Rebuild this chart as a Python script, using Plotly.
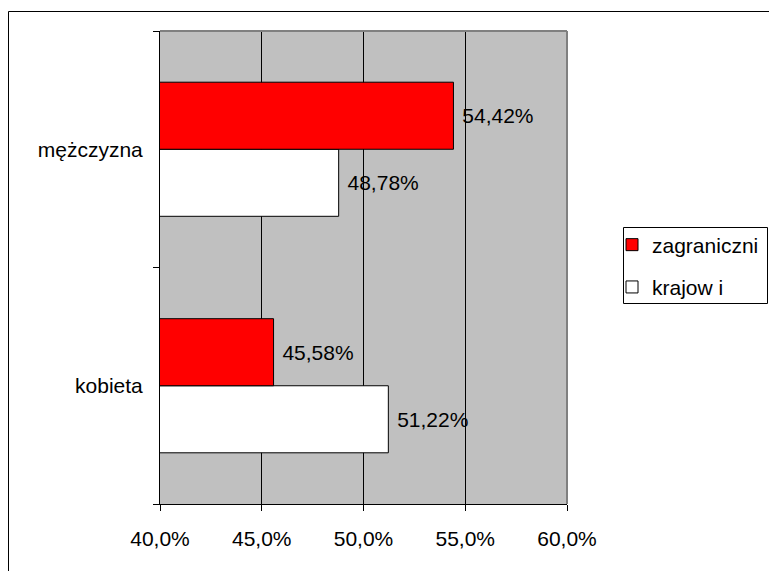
import plotly.graph_objects as go

categories = ["kobieta", "mężczyzna"]
krajowi = [51.22, 48.78]
zagraniczni = [45.58, 54.42]
series_names = ["zagraniczni", "krajow i"]
x_ticks = [40, 45, 50, 55, 60]
x_tick_labels = ["40,0%", "45,0%", "50,0%", "55,0%", "60,0%"]

W, H = 769, 571
# plot area in page pixels
L, R, T, B = 160, 567, 31, 504
pw, ph = R - L, B - T


def px(x):
    return (x - L) / pw


def py(y):
    return (B - y) / ph


FONT = "Liberation Sans, Arial, sans-serif"
FS = 21

fig = go.Figure()
fig.add_trace(go.Bar(
    y=categories, x=krajowi, orientation="h", name=series_names[1],
    marker=dict(color="#FFFFFF", line=dict(color="#000000", width=1)),
    texttemplate=" %{x:.2f}%", textposition="outside", constraintext="none",
    textfont=dict(size=FS, color="#000000", family=FONT), cliponaxis=False,
    legendgroup="b", legendrank=2,
))
fig.add_trace(go.Bar(
    y=categories, x=zagraniczni, orientation="h", name=series_names[0],
    marker=dict(color="#FF0000", line=dict(color="#000000", width=1)),
    texttemplate=" %{x:.2f}%", textposition="outside", constraintext="none",
    textfont=dict(size=FS, color="#000000", family=FONT), cliponaxis=False,
    legendgroup="a", legendrank=1,
))

shapes = [
    # outer chart border
    dict(type="rect", xref="paper", yref="paper", x0=px(8.5), x1=px(775), y0=py(580), y1=py(11.5),
         line=dict(color="#000000", width=1), layer="below"),
    # legend box
    dict(type="rect", xref="paper", yref="paper", x0=px(623.5), x1=px(767.5), y0=py(303.5), y1=py(227.5),
         line=dict(color="#000000", width=1), fillcolor="#FFFFFF", layer="below"),
    # plot area top/right border in gray
    dict(type="line", xref="paper", yref="paper", x0=0, x1=1, y0=1, y1=1,
         line=dict(color="#808080", width=2), layer="above"),
    dict(type="line", xref="paper", yref="paper", x0=1, x1=1, y0=0, y1=1,
         line=dict(color="#808080", width=2), layer="above"),
]

fig.update_layout(
    width=W, height=H,
    margin=dict(l=L, r=W - R, t=T, b=H - B, pad=0, autoexpand=False),
    paper_bgcolor="#FFFFFF", plot_bgcolor="#C0C0C0",
    separators=",.",
    barmode="group", bargap=0.433, bargroupgap=0,
    font=dict(family=FONT, size=FS, color="#000000"),
    showlegend=True,
    legend=dict(
        x=px(612), xanchor="left", y=py(266), yanchor="middle",
        traceorder="grouped", tracegroupgap=12,
        bgcolor="rgba(0,0,0,0)", borderwidth=0,
        font=dict(size=FS, family=FONT, color="#000000"),
    ),
    xaxis=dict(
        range=[40, 60], tickvals=x_ticks, ticktext=x_tick_labels,
        showgrid=True, gridcolor="#000000", gridwidth=1, zeroline=False,
        showline=True, linecolor="#000000", linewidth=1,
        ticks="outside", ticklen=6, tickcolor="#000000",
        tickfont=dict(size=FS, family=FONT, color="#000000"),
        ticklabelstandoff=10, automargin=False,
    ),
    yaxis=dict(
        type="category", categoryorder="array", categoryarray=categories,
        range=[-0.5, 1.5], tickson="boundaries",
        showgrid=False, zeroline=False,
        showline=True, linecolor="#000000", linewidth=1,
        ticks="outside", ticklen=6, tickcolor="#000000",
        tickfont=dict(size=FS, family=FONT, color="#000000"),
        ticklabelstandoff=12, automargin=False,
    ),
    shapes=shapes,
)

fig.write_html(
    "out.html",
    config={"displayModeBar": False},
    post_script="document.body.style.margin='0';document.body.style.overflow='hidden';",
)
